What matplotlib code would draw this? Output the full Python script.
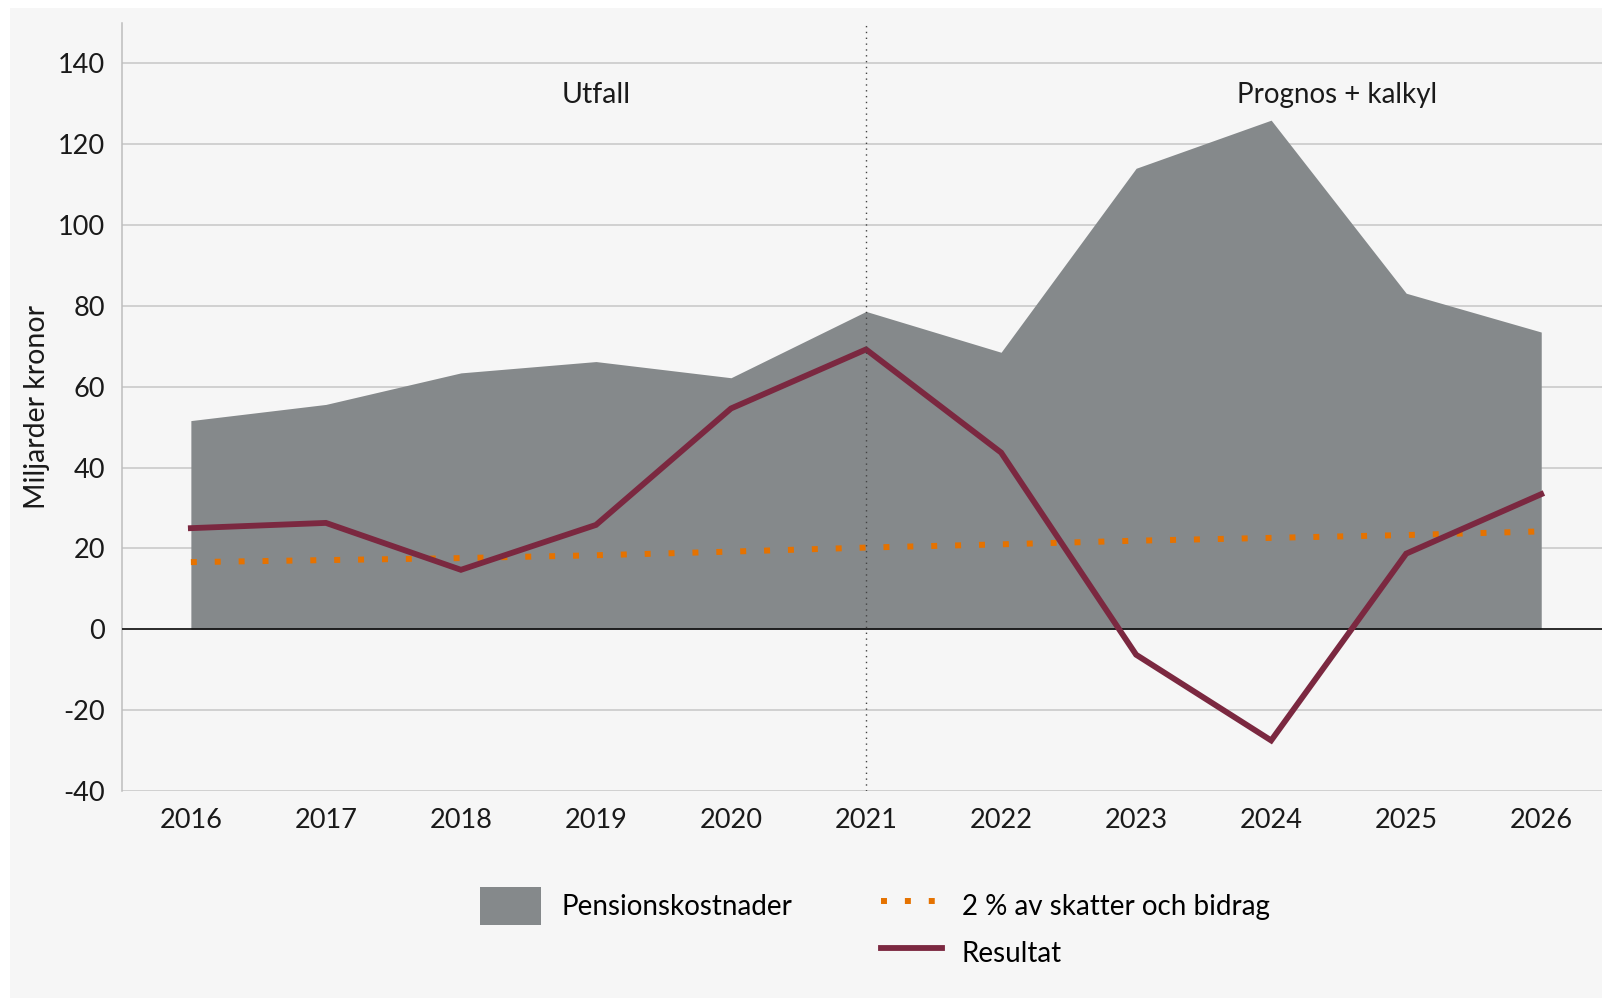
import matplotlib
matplotlib.use("Agg")
import matplotlib.pyplot as plt
from matplotlib.patches import Patch, Rectangle
from matplotlib.lines import Line2D

plt.rcParams['font.family'] = ['Lato', 'DejaVu Sans']
plt.rcParams['axes.unicode_minus'] = False

# Data (miljarder kronor)
years = [2016, 2017, 2018, 2019, 2020, 2021, 2022, 2023, 2024, 2025, 2026]
pensionskostnader = [51.6, 55.6, 63.4, 66.2, 62.2, 78.6, 68.5, 114.0, 125.9, 83.1, 73.5]
resultat = [25.0, 26.3, 14.7, 25.8, 54.6, 69.2, 43.7, -6.3, -27.5, 18.7, 33.4]
tva_procent = [16.6, 17.1, 17.6, 18.3, 19.2, 20.2, 21.0, 21.9, 22.6, 23.3, 24.2]
yticks = [-40, -20, 0, 20, 40, 60, 80, 100, 120, 140]

bg = '#f6f6f6'
gray = '#85898b'
maroon = '#7b2840'
orange = '#e57200'

fig = plt.figure(figsize=(16.02, 9.99), dpi=100, facecolor='white')
# light panel behind everything
fig.patches.append(Rectangle((10 / 1602, 1 / 999), 1 - 10 / 1602, (999 - 9) / 999,
                             transform=fig.transFigure, facecolor=bg, edgecolor='none', zorder=-5))

ax = fig.add_axes([122 / 1602, 1 - 791 / 999, 1 - 122 / 1602, (791 - 22.7) / 999])
ax.set_zorder(1)
ax.patch.set_alpha(0)

ax.fill_between(years, 0, pensionskostnader, color=gray, linewidth=0, zorder=2)
ax.plot(years, tva_procent, color=orange, linewidth=4.3, linestyle=(0, (1, 3)),
        dash_capstyle='butt', zorder=3)
ax.plot(years, resultat, color=maroon, linewidth=4.2, solid_joinstyle='miter', zorder=4)
ax.axhline(0, color='black', linewidth=1.1, zorder=3.5)
ax.axvline(2021, color='#444444', linewidth=1.0, linestyle=(0, (1, 3.2)), zorder=5)

ax.set_xlim(2015.49, 2026.45)
ax.set_ylim(-40, 150)
ax.set_yticks(yticks)
ax.set_xticks(years)
ax.grid(axis='y', color='#c6c6c6', linewidth=1.1, zorder=1)
ax.set_axisbelow(True)
ax.tick_params(axis='both', length=0, labelsize=19.5, labelcolor='#1a1a1a')
ax.tick_params(axis='y', pad=12)
ax.tick_params(axis='x', pad=12)
for s in ['top', 'right', 'bottom']:
    ax.spines[s].set_visible(False)
ax.spines['left'].set_color('#bdbdbd')
ax.spines['left'].set_linewidth(1.1)

ax.set_ylabel('Miljarder kronor', fontsize=20.5, color='#1a1a1a', labelpad=6)

ax.text(2019.0, 130.1, 'Utfall', fontsize=20.5, ha='center', va='baseline', color='#1a1a1a')
ax.text(2024.49, 130.1, 'Prognos + kalkyl', fontsize=20, ha='center', va='baseline', color='#1a1a1a')

handles = [Patch(facecolor=gray, edgecolor='none'),
           Line2D([], [], color='none'),
           Line2D([], [], color=orange, linewidth=4.3, linestyle=(0, (1, 3)), dash_capstyle='butt'),
           Line2D([], [], color=maroon, linewidth=4.2)]
labels = ['Pensionskostnader', '', '2 % av skatter och bidrag', 'Resultat']
fig.legend(handles, labels, ncol=2, loc='upper left',
           bbox_to_anchor=(480 / 1602, (999 - 887) / 999), frameon=False,
           fontsize=20, handlelength=2.2, handleheight=1.75, handletextpad=0.72,
           columnspacing=3.2, labelspacing=0.3, borderpad=0, borderaxespad=0)

fig.savefig('out.png', dpi=100, facecolor='white')
